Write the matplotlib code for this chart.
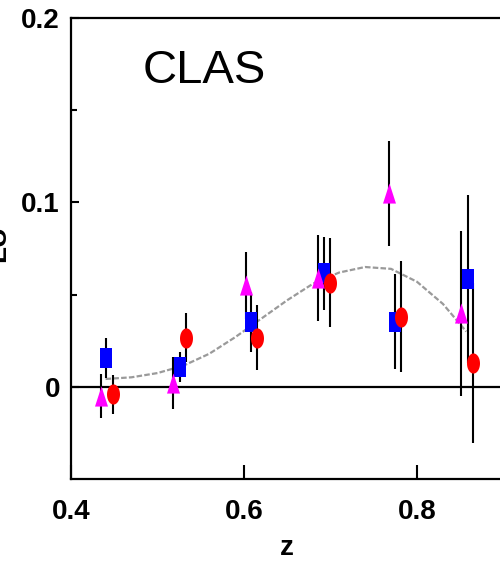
import matplotlib
matplotlib.use("Agg")
import matplotlib.pyplot as plt
from matplotlib.path import Path
import numpy as np

# ---- data ----
z_tri = [0.435, 0.518, 0.602, 0.685, 0.768, 0.851]
a_tri = [-0.005, 0.002, 0.055, 0.059, 0.105, 0.040]
e_tri = [0.012, 0.014, 0.018, 0.0235, 0.0285, 0.0447]

z_sq = [0.441, 0.526, 0.608, 0.692, 0.775, 0.859]
a_sq = [0.0157, 0.0108, 0.0354, 0.0616, 0.0354, 0.0585]
e_sq = [0.011, 0.008, 0.0163, 0.0199, 0.0257, 0.0455]

z_circ = [0.449, 0.533, 0.615, 0.699, 0.782, 0.865]
a_circ = [-0.004, 0.0267, 0.0267, 0.0565, 0.0381, 0.0128]
e_circ = [0.0105, 0.0133, 0.0176, 0.024, 0.030, 0.0434]

curve_z = [0.44, 0.47, 0.50, 0.53, 0.56, 0.59, 0.62, 0.65, 0.68, 0.71, 0.74, 0.77, 0.80, 0.83, 0.857]
curve_a = [0.0043, 0.0052, 0.0075, 0.0115, 0.018, 0.027, 0.037, 0.047, 0.056, 0.062, 0.065, 0.064, 0.057, 0.045, 0.030]

xticks = [0.4, 0.6, 0.8]
xticklabels = ["0.4", "0.6", "0.8"]
yticks = [0.0, 0.1, 0.2]
yticklabels = ["0", "0.1", "0.2"]
yminor = [0.05, 0.15]

# ---- figure ----
fig = plt.figure(figsize=(5.0, 5.63), dpi=100)
ax = fig.add_axes([0.142, 0.149, 0.858, 0.819])
ax.set_xlim(0.4, 0.896)
ax.set_ylim(-0.05, 0.2)

# stretched marker shapes (reference is vertically stretched)
r = 1.55
sq_path = Path([(-1, -r), (1, -r), (1, r), (-1, r), (-1, -r)],
               [Path.MOVETO, Path.LINETO, Path.LINETO, Path.LINETO, Path.CLOSEPOLY])
t = np.linspace(0, 2 * np.pi, 60)
circ_path = Path(np.column_stack([np.cos(t), r * np.sin(t)]))
tri_path = Path([(-1, -r), (1, -r), (0, r), (-1, -r)],
                [Path.MOVETO, Path.LINETO, Path.LINETO, Path.CLOSEPOLY])

ax.axhline(0, color="black", lw=1.6, zorder=1)
ax.plot(curve_z, curve_a, color="#9a9a9a", lw=1.6, ls=(0, (2.5, 1)), zorder=1.5)

for zz, aa, ee in [(z_tri, a_tri, e_tri), (z_sq, a_sq, e_sq), (z_circ, a_circ, e_circ)]:
    ax.errorbar(zz, aa, yerr=ee, fmt="none", ecolor="black", elinewidth=1.5,
                capsize=0, zorder=2)

ax.plot(z_sq, a_sq, ls="none", marker=sq_path, ms=14.5, color="#0000ff", mew=0, zorder=3)
ax.plot(z_tri, a_tri, ls="none", marker=tri_path, ms=14.5, color="#ff00ff", mew=0, zorder=3)
ax.plot(z_circ, a_circ, ls="none", marker=circ_path, ms=14.5, color="#ff0000", mew=0, zorder=3)

# spines & ticks
for s in ["left", "top", "bottom"]:
    ax.spines[s].set_linewidth(1.6)
ax.spines["right"].set_visible(False)

lab_font = dict(family="Liberation Sans", weight="bold", size=20)
ax.set_xticks(xticks)
ax.set_xticklabels(xticklabels, fontdict=lab_font)
ax.set_yticks(yticks)
ax.set_yticklabels(yticklabels, fontdict=lab_font)
ax.set_yticks(yminor, minor=True)
ax.tick_params(axis="x", direction="in", length=10, width=1.5, pad=14, top=False)
ax.tick_params(axis="y", direction="in", length=6, width=1.5, pad=8, right=False)
ax.tick_params(axis="y", which="minor", direction="in", length=4.5, width=1.5)

ax.text(0.483, 0.165, "CLAS", fontsize=34, family="Liberation Sans", color="black")

fig.text(0.574, 0.004, "z", ha="center", va="bottom", fontdict=lab_font)
fig.text(0.022, 0.567, "LU", rotation=90, ha="right", va="center", fontdict=lab_font)

fig.savefig("out.png", dpi=100)
